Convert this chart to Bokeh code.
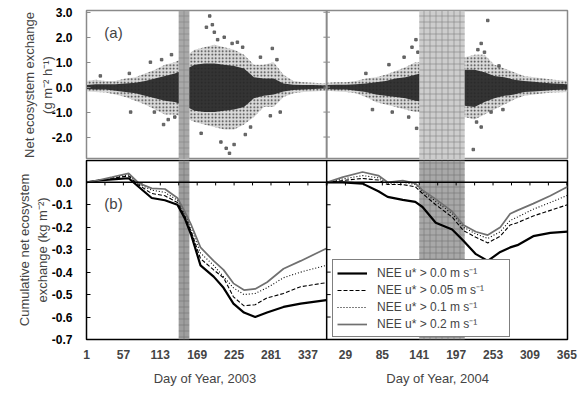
from bokeh.plotting import figure
from bokeh.layouts import column
from bokeh.models import (Range1d, FixedTicker, NumeralTickFormatter, Span, Label,
                          Legend, LegendItem)
from bokeh.embed import file_html
from bokeh.resources import INLINE

FONT = "Liberation Sans"
DAYS_2003 = 365

# ---------------- (a) hourly NEE (g m-2 h-1): envelope of the point cloud ----------------
cloud_days_2003 = [1, 15, 30, 45, 60, 75, 90, 105, 120, 135, 150, 165, 180, 195, 210, 225,
                   240, 255, 270, 285, 300, 315, 330, 345, 365]
core_hi_2003 = [0.08, 0.12, 0.12, 0.12, 0.15, 0.18, 0.25, 0.35, 0.45, 0.55, 0.7, 0.9, 0.95,
                0.95, 0.9, 0.85, 0.75, 0.4, 0.35, 0.35, 0.15, 0.1, 0.08, 0.08, 0.06]
core_lo_2003 = [-0.08, -0.1, -0.1, -0.15, -0.2, -0.25, -0.35, -0.45, -0.55, -0.6, -0.75, -0.95,
                -1.0, -1.0, -0.95, -0.9, -0.8, -0.45, -0.35, -0.3, -0.18, -0.12, -0.1, -0.08, -0.06]
halo_hi_2003 = [0.25, 0.3, 0.25, 0.25, 0.35, 0.4, 0.55, 0.7, 0.9, 1.0, 1.2, 1.5, 1.6, 1.7,
                1.6, 1.5, 1.3, 0.9, 0.9, 1.0, 0.5, 0.25, 0.2, 0.18, 0.15]
halo_lo_2003 = [-0.18, -0.2, -0.22, -0.3, -0.4, -0.55, -0.7, -0.9, -1.1, -1.1, -1.2, -1.4,
                -1.5, -1.6, -1.7, -1.7, -1.5, -1.2, -0.8, -0.8, -0.4, -0.25, -0.2, -0.18, -0.15]

cloud_days_2004 = [1, 15, 30, 45, 60, 75, 90, 105, 120, 135, 150, 165, 180, 195, 210, 225,
                   240, 255, 270, 285, 300, 315, 330, 345, 366]
core_hi_2004 = [0.08, 0.1, 0.1, 0.12, 0.15, 0.2, 0.25, 0.35, 0.4, 0.5, 0.6, 0.7, 0.7, 0.7,
                0.7, 0.7, 0.6, 0.45, 0.4, 0.3, 0.25, 0.22, 0.18, 0.15, 0.12]
core_lo_2004 = [-0.08, -0.1, -0.1, -0.15, -0.2, -0.3, -0.35, -0.4, -0.45, -0.55, -0.6, -0.7,
                -0.75, -0.75, -0.75, -0.8, -0.6, -0.45, -0.35, -0.3, -0.2, -0.18, -0.15, -0.12, -0.1]
halo_hi_2004 = [0.18, 0.2, 0.2, 0.25, 0.35, 0.4, 0.5, 0.65, 0.8, 1.0, 1.0, 1.1, 1.2, 1.2,
                1.2, 1.3, 1.3, 0.9, 0.75, 0.6, 0.45, 0.4, 0.35, 0.3, 0.25]
halo_lo_2004 = [-0.15, -0.18, -0.2, -0.25, -0.4, -0.6, -0.7, -0.8, -0.9, -1.0, -1.0, -1.1,
                -1.2, -1.2, -1.2, -1.3, -1.1, -0.9, -0.7, -0.5, -0.35, -0.3, -0.25, -0.22, -0.2]

# isolated outlying hourly values
outlier_days_2003 = [22, 66, 68, 98, 104, 115, 118, 125, 130, 135, 175, 183, 188, 192, 195,
                     200, 205, 210, 213, 218, 222, 225, 230, 238, 242, 250, 265, 283, 280, 290, 295]
outlier_vals_2003 = [0.45, 0.55, -1.0, 1.0, -1.0, 1.1, -1.5, -1.3, 1.3, -1.2, -1.85, 2.4, 2.85,
                     2.5, 2.2, 1.9, -2.2, 2.0, -2.45, -2.65, 1.75, -2.3, 1.8, 1.6, -1.9, -1.6,
                     1.2, 1.55, -1.15, 1.1, -1.0]
outlier_days_2004 = [60, 70, 95, 100, 118, 125, 130, 136, 137, 139, 223, 228, 230, 235, 235,
                     240, 245, 250, 262, 268]
outlier_vals_2004 = [0.55, -0.9, 0.9, -1.0, 1.2, -1.2, 1.6, 1.9, -1.65, 1.4, -2.5, -1.4, 1.5,
                     1.75, -1.6, 1.4, 2.67, -1.0, 0.85, -0.9]

# shaded periods (day of year)
band_start_2003, band_end_2003 = 141, 157
band_start_2004, band_end_2004 = 141, 210

# ---------------- (b) cumulative NEE (kg m-2) ----------------
cum_days_2003 = [1, 20, 40, 65, 80, 100, 120, 139, 150, 160, 174, 194, 209, 224, 240, 257,
                 275, 300, 326, 365]
cum_2003_u02 = [0, 0.01, 0.023, 0.04, -0.003, -0.027, -0.03, -0.07, -0.13, -0.19, -0.29,
                -0.35, -0.39, -0.45, -0.48, -0.475, -0.445, -0.385, -0.35, -0.295]
cum_2003_u01 = [0, 0.009, 0.02, 0.033, -0.008, -0.035, -0.045, -0.08, -0.14, -0.205, -0.315,
                -0.37, -0.42, -0.47, -0.50, -0.495, -0.47, -0.425, -0.40, -0.37]
cum_2003_u005 = [0, 0.009, 0.018, 0.028, -0.012, -0.05, -0.06, -0.09, -0.15, -0.22, -0.34,
                 -0.39, -0.425, -0.51, -0.55, -0.545, -0.515, -0.495, -0.465, -0.447]
cum_2003_u00 = [0, 0.008, 0.013, 0.018, -0.02, -0.07, -0.08, -0.10, -0.16, -0.235, -0.37,
                -0.42, -0.47, -0.54, -0.58, -0.60, -0.58, -0.555, -0.54, -0.525]

cum_days_2004 = [1, 25, 55, 79, 93, 116, 135, 146, 166, 191, 208, 227, 245, 264, 279, 290,
                 314, 340, 366]
cum_2004_u02 = [0, 0.023, 0.046, 0.03, 0.0, 0.008, -0.005, -0.035, -0.075, -0.13, -0.19,
                -0.22, -0.235, -0.20, -0.14, -0.125, -0.095, -0.06, -0.02]
cum_2004_u01 = [0, 0.015, 0.03, 0.02, -0.005, 0.0, -0.01, -0.04, -0.085, -0.14, -0.20,
                -0.23, -0.25, -0.22, -0.17, -0.155, -0.12, -0.09, -0.058]
cum_2004_u005 = [0, 0.008, 0.017, 0.01, -0.01, -0.01, -0.02, -0.05, -0.10, -0.155, -0.215,
                 -0.245, -0.27, -0.24, -0.19, -0.18, -0.15, -0.125, -0.10]
cum_2004_u00 = [0, 0.0, -0.006, -0.04, -0.065, -0.078, -0.087, -0.11, -0.18, -0.21, -0.26,
                -0.32, -0.35, -0.31, -0.29, -0.28, -0.24, -0.225, -0.22]

series_labels = ["NEE u* > 0.0 m s\u207b\u00b9", "NEE u* > 0.05 m s\u207b\u00b9",
                 "NEE u* > 0.1 m s\u207b\u00b9", "NEE u* > 0.2 m s\u207b\u00b9"]

tick_labels_2003 = [1, 57, 113, 169, 225, 281, 337]
tick_labels_2004 = [29, 85, 141, 197, 253, 309, 365]
nee_ticks = [-2, -1, 0, 1, 2, 3]
cum_ticks = [-0.7, -0.6, -0.5, -0.4, -0.3, -0.2, -0.1, 0.0]
x_title_2003 = "Day of Year, 2003"
x_title_2004 = "Day of Year, 2004"


def a04(days):
    return [DAYS_2003 + d for d in days]


X0, X1 = 1, DAYS_2003 + 366
DIV = DAYS_2003 + 0.5
W = 580
LB, RB = 86, 13
YA = (-2.9, 3.07)
YB = (-0.7, 0.097)
NBSP = "\u00a0"


def style_y(p, ticks, title, color, standoff):
    ax = p.yaxis[0]
    ax.ticker = FixedTicker(ticks=ticks)
    ax.formatter = NumeralTickFormatter(format="0.0")
    ax.major_label_text_font = FONT
    ax.major_label_text_font_style = "bold"
    ax.major_label_text_font_size = "12px"
    ax.major_label_text_color = "black"
    ax.major_label_standoff = 14
    ax.major_tick_in = 4
    ax.major_tick_out = 0
    ax.minor_tick_line_color = None
    ax.major_tick_line_color = color
    ax.axis_line_color = color
    ax.axis_label = title
    ax.axis_label_text_font = FONT
    ax.axis_label_text_font_style = "normal"
    ax.axis_label_text_font_size = "13px"
    ax.axis_label_standoff = standoff


# ---------------- top panel ----------------
p1 = figure(width=W, height=159, x_range=Range1d(X0, X1), y_range=Range1d(*YA),
            output_backend="svg", toolbar_location=None,
            min_border_left=LB, min_border_right=RB, min_border_top=10, min_border_bottom=0)
p1.xaxis.visible = False
p1.grid.visible = False
p1.outline_line_color = "#8a8a8a"
p1.outline_line_width = 1.5
style_y(p1, nee_ticks, "Net ecosystem exchange\n(g m\u207b\u00b2 h\u207b\u00b9)", "#8a8a8a", -6)

for days, hh, hl, ch, cl in [
        (cloud_days_2003, halo_hi_2003, halo_lo_2003, core_hi_2003, core_lo_2003),
        (a04(cloud_days_2004), halo_hi_2004, halo_lo_2004, core_hi_2004, core_lo_2004)]:
    p1.varea(x=days, y1=hl, y2=hh, fill_color="#d6d6d6", fill_alpha=0.9,
             hatch_pattern=".", hatch_color="#333333", hatch_scale=3.5, hatch_weight=1.2)
    p1.varea(x=days, y1=cl, y2=ch, fill_color="#262626", fill_alpha=0.92)
p1.scatter(x=outlier_days_2003 + a04(outlier_days_2004),
           y=outlier_vals_2003 + outlier_vals_2004,
           marker="square", size=2.5, color="#555555", alpha=0.85)

p1.quad(left=[band_start_2003, DAYS_2003 + band_start_2004],
        right=[band_end_2003, DAYS_2003 + band_end_2004],
        bottom=YA[0], top=YA[1], fill_color=["#a9a9a9", "#cdcdcd"],
        hatch_pattern="+", hatch_color="#808080", hatch_scale=6, hatch_weight=0.6,
        line_color=None)
p1.add_layout(Span(location=DIV, dimension="height", line_color="#8a8a8a", line_width=2))
p1.segment(x0=[DIV - 5] * len(nee_ticks), x1=[DIV + 5] * len(nee_ticks),
           y0=nee_ticks, y1=nee_ticks, line_color="#8a8a8a", line_width=1)
p1.add_layout(Label(x=28, y=2.2, text="(a)", text_font=FONT, text_font_size="15px",
                    text_baseline="middle"))

# ---------------- bottom panel ----------------
p2 = figure(width=W, height=229, x_range=p1.x_range, y_range=Range1d(*YB),
            output_backend="svg", toolbar_location=None,
            min_border_left=LB, min_border_right=RB, min_border_top=1, min_border_bottom=48)
p2.grid.visible = False
p2.outline_line_color = "black"
p2.outline_line_width = 1.5
style_y(p2, cum_ticks, "Cumulative net ecosystem\nexchange (kg m\u207b\u00b2)", "black", -1)

xlab_ticks = tick_labels_2003 + a04(tick_labels_2004)
xa = p2.xaxis[0]
xa.ticker = FixedTicker(ticks=xlab_ticks)
xa.major_label_overrides = {t: str(l) for t, l in zip(xlab_ticks, tick_labels_2003 + tick_labels_2004)}
xa.major_label_text_font = FONT
xa.major_label_text_font_style = "bold"
xa.major_label_text_font_size = "12px"
xa.major_label_standoff = 10
xa.major_tick_in = 0
xa.major_tick_out = 0
xa.minor_tick_line_color = None
xa.axis_line_color = None
xa.axis_label = x_title_2003 + NBSP * 36 + x_title_2004 + NBSP * 3
xa.axis_label_text_font = FONT
xa.axis_label_text_font_style = "normal"
xa.axis_label_text_font_size = "13px"
xa.axis_label_standoff = 9

p2.quad(left=[band_start_2003, DAYS_2003 + band_start_2004],
        right=[band_end_2003, DAYS_2003 + band_end_2004],
        bottom=YB[0], top=YB[1], fill_color=["#9e9e9e", "#a8a8a8"],
        hatch_pattern="+", hatch_color="#707070", hatch_scale=6, hatch_weight=0.6,
        line_color=None)
p2.add_layout(Span(location=0, dimension="width", line_color="black", line_width=1.5))
p2.add_layout(Span(location=DIV, dimension="height", line_color="black", line_width=1.5))
tick_marks = list(range(1, DAYS_2003 + 1, 28)) + a04(range(1, 366, 28))
p2.segment(x0=tick_marks, x1=tick_marks, y0=[0] * len(tick_marks),
           y1=[-0.014] * len(tick_marks), line_color="black", line_width=1)
p2.segment(x0=[DIV] * len(cum_ticks), x1=[DIV + 6] * len(cum_ticks),
           y0=cum_ticks, y1=cum_ticks, line_color="black", line_width=1)

styles = [dict(line_color="black", line_width=2.2),
          dict(line_color="black", line_width=1.1, line_dash="4 2"),
          dict(line_color="black", line_width=1.1, line_dash="1 2"),
          dict(line_color="#707070", line_width=1.7)]
curves_2003 = [cum_2003_u00, cum_2003_u005, cum_2003_u01, cum_2003_u02]
curves_2004 = [cum_2004_u00, cum_2004_u005, cum_2004_u01, cum_2004_u02]
items = []
for lab, st, c3, c4 in zip(series_labels, styles, curves_2003, curves_2004):
    r3 = p2.line(x=cum_days_2003, y=c3, **st)
    p2.line(x=a04(cum_days_2004), y=c4, **st)
    items.append(LegendItem(label=lab, renderers=[r3]))

leg = Legend(items=items, location=(246, 2))
leg.label_text_font = FONT
leg.label_text_font_size = "12px"
leg.glyph_width = 30
leg.glyph_height = 12
leg.label_height = 12
leg.label_width = 128
leg.label_standoff = 10
leg.spacing = 0
leg.padding = 4
leg.margin = 0
leg.border_line_color = "black"
leg.border_line_width = 1
leg.background_fill_alpha = 1
p2.add_layout(leg)

p2.add_layout(Label(x=28, y=-0.093, text="(b)", text_font=FONT, text_font_size="15px",
                    text_baseline="middle"))

layout = column(p1, p2, spacing=0)
open("out.html", "w").write(file_html(layout, INLINE))
